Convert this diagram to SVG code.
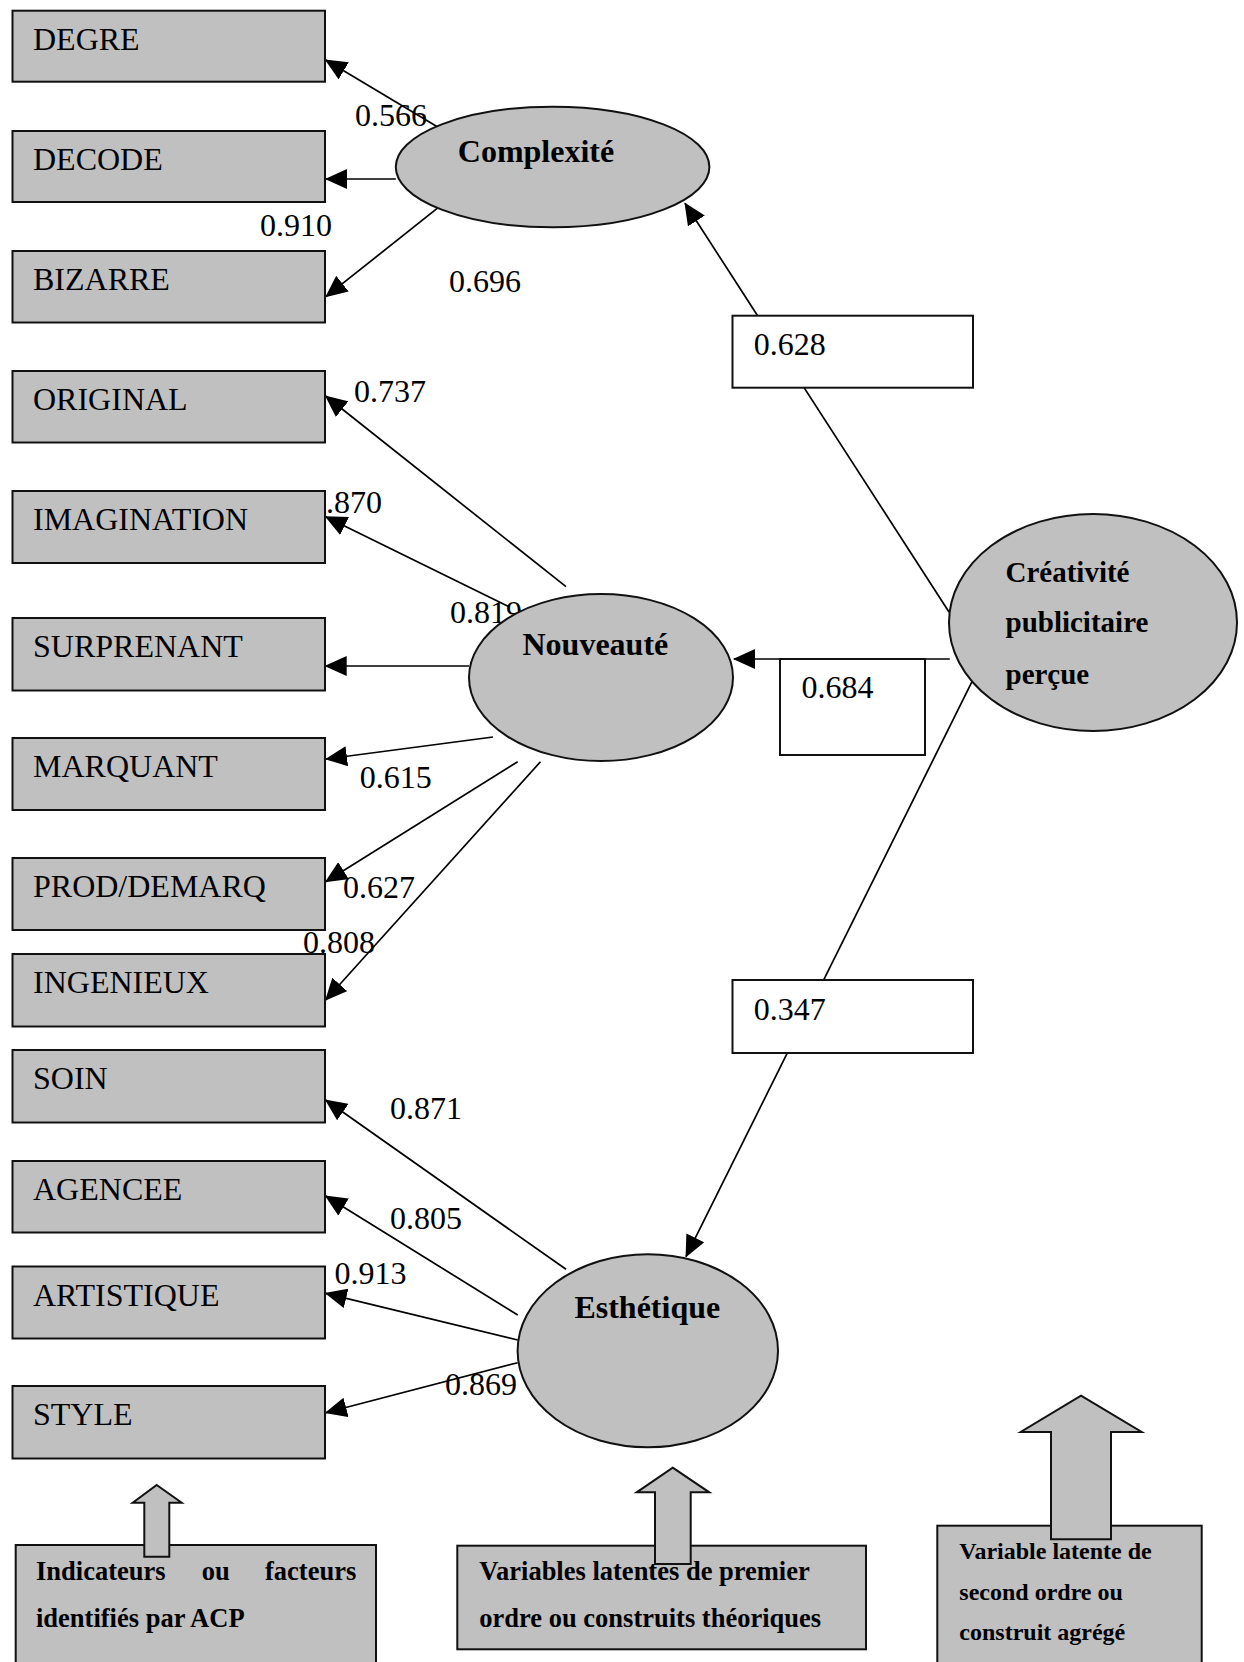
<svg xmlns="http://www.w3.org/2000/svg" width="1244" height="1662" viewBox="0 0 1244 1662">
<defs>
<marker id="ah" markerUnits="userSpaceOnUse" markerWidth="22" markerHeight="20" viewBox="0 0 22 20" refX="21" refY="10" orient="auto">
<path d="M0,0 L22,10 L0,20 z" fill="#000"/>
</marker>
</defs>
<style>
.box{fill:#c0c0c0;stroke:#111;stroke-width:2}
.ell{fill:#c0c0c0;stroke:#111;stroke-width:2}
.wbox{fill:#fff;stroke:#111;stroke-width:2}
.ln{stroke:#000;stroke-width:1.7;fill:none}
.arr{stroke:#000;stroke-width:1.7;fill:none;marker-end:url(#ah)}
.t{font-family:"Liberation Serif","Times New Roman",serif;font-size:32px;fill:#000}
.b{font-family:"Liberation Serif","Times New Roman",serif;font-size:32px;font-weight:bold;fill:#000}
.bc{font-family:"Liberation Serif","Times New Roman",serif;font-size:29px;font-weight:bold;fill:#000}
.lg{font-family:"Liberation Serif","Times New Roman",serif;font-size:26.5px;font-weight:bold;fill:#000}
.lg3{font-family:"Liberation Serif","Times New Roman",serif;font-size:24px;font-weight:bold;fill:#000}
.blk{fill:#c0c0c0;stroke:#111;stroke-width:2;stroke-linejoin:miter}
</style>
<rect width="1244" height="1662" fill="#fff"/>

<g id="connectors">
<line class="arr" x1="444.4" y1="131" x2="325.7" y2="60"/>
<line class="arr" x1="395.8" y1="179" x2="326" y2="179"/>
<line class="arr" x1="444.4" y1="202.7" x2="326" y2="296.7"/>
<line class="arr" x1="566" y1="586.7" x2="325.7" y2="396"/>
<line class="arr" x1="509" y1="606.7" x2="325.7" y2="516.7"/>
<line class="arr" x1="469" y1="666" x2="325.7" y2="666"/>
<line class="arr" x1="493" y1="737" x2="326" y2="759"/>
<line class="arr" x1="517.7" y1="761.7" x2="325.7" y2="881.7"/>
<line class="arr" x1="540.5" y1="761.7" x2="325.7" y2="1000"/>
<line class="arr" x1="566" y1="1269.3" x2="325.7" y2="1100"/>
<line class="arr" x1="517.7" y1="1315" x2="325.7" y2="1196"/>
<line class="arr" x1="517.7" y1="1340" x2="325.7" y2="1293.3"/>
<line class="arr" x1="517.7" y1="1362.7" x2="325.7" y2="1412.7"/>
<line class="arr" x1="949" y1="612" x2="685" y2="203.3"/>
<line class="arr" x1="949.8" y1="659" x2="734" y2="659"/>
<line class="arr" x1="972" y1="681.7" x2="686" y2="1256.7"/>
</g>

<g id="labels">
<text class="t" x="355" y="126">0.566</text>
<text class="t" x="260" y="236">0.910</text>
<text class="t" x="449" y="291.7">0.696</text>
<text class="t" x="354" y="401.7">0.737</text>
<text class="t" x="326" y="512.7">.870</text>
<text class="t" x="450" y="622.7">0.819</text>
<text class="t" x="359.7" y="788.3">0.615</text>
<text class="t" x="343" y="897.7">0.627</text>
<text class="t" x="303" y="953">0.808</text>
<text class="t" x="390" y="1119.3">0.871</text>
<text class="t" x="390" y="1229.3">0.805</text>
<text class="t" x="334.5" y="1284">0.913</text>
<text class="t" x="445" y="1395">0.869</text>
</g>

<g id="w628"><rect class="wbox" x="732.5" y="315.7" width="240.5" height="72"/><text class="t" x="753.7" y="355">0.628</text></g>
<g id="w684"><rect class="wbox" x="780" y="659" width="145" height="96"/><text class="t" x="801.6" y="698">0.684</text></g>
<g id="w347"><rect class="wbox" x="732.5" y="980" width="240.5" height="73"/><text class="t" x="753.7" y="1020">0.347</text></g>

<g id="n-degre"><rect class="box" x="12.5" y="10.7" width="312.5" height="71"/><text class="t" x="33" y="50">DEGRE</text></g>
<g id="n-decode"><rect class="box" x="12.5" y="131" width="312.5" height="71"/><text class="t" x="33" y="170">DECODE</text></g>
<g id="n-bizarre"><rect class="box" x="12.5" y="251" width="312.5" height="71.5"/><text class="t" x="33" y="290">BIZARRE</text></g>
<g id="n-original"><rect class="box" x="12.5" y="371" width="312.5" height="71.5"/><text class="t" x="33" y="410">ORIGINAL</text></g>
<g id="n-imagination"><rect class="box" x="12.5" y="491" width="312.5" height="72"/><text class="t" x="33" y="530">IMAGINATION</text></g>
<g id="n-surprenant"><rect class="box" x="12.5" y="618" width="312.5" height="72.5"/><text class="t" x="33" y="657">SURPRENANT</text></g>
<g id="n-marquant"><rect class="box" x="12.5" y="738" width="312.5" height="72"/><text class="t" x="33" y="777">MARQUANT</text></g>
<g id="n-proddemarq"><rect class="box" x="12.5" y="858" width="312.5" height="72"/><text class="t" x="33" y="897">PROD/DEMARQ</text></g>
<g id="n-ingenieux"><rect class="box" x="12.5" y="954" width="312.5" height="72.5"/><text class="t" x="33" y="993">INGENIEUX</text></g>
<g id="n-soin"><rect class="box" x="12.5" y="1050" width="312.5" height="72.5"/><text class="t" x="33" y="1089">SOIN</text></g>
<g id="n-agencee"><rect class="box" x="12.5" y="1161" width="312.5" height="71.5"/><text class="t" x="33" y="1200">AGENCEE</text></g>
<g id="n-artistique"><rect class="box" x="12.5" y="1266.5" width="312.5" height="72"/><text class="t" x="33" y="1305.5">ARTISTIQUE</text></g>
<g id="n-style"><rect class="box" x="12.5" y="1386" width="312.5" height="72.5"/><text class="t" x="33" y="1425">STYLE</text></g>

<g id="n-complexite"><ellipse class="ell" cx="552.6" cy="167" rx="156.8" ry="60.3"/><text class="b" x="457.8" y="161.7">Complexité</text></g>
<g id="n-nouveaute"><ellipse class="ell" cx="601" cy="677.5" rx="132" ry="83.5"/><text class="b" x="522.5" y="655">Nouveauté</text></g>
<g id="n-esthetique"><ellipse class="ell" cx="647.8" cy="1350.8" rx="130.2" ry="96.5"/><text class="b" x="574.4" y="1318.3">Esthétique</text></g>
<g id="n-creativite"><ellipse class="ell" cx="1093" cy="622.5" rx="144" ry="108.5"/>
<text class="bc" x="1005.5" y="581.7">Créativité</text>
<text class="bc" x="1005.5" y="632.3">publicitaire</text>
<text class="bc" x="1005.5" y="684">perçue</text></g>

<g id="legend1">
<rect class="box" x="15.7" y="1545" width="360.3" height="130"/>
<path class="blk" d="M156.7,1485 L181.7,1502.7 L169.3,1502.7 L169.3,1556.7 L144.3,1556.7 L144.3,1502.7 L132.7,1502.7 Z"/>
<text class="lg" y="1580"><tspan x="36">Indicateurs</tspan><tspan x="201.7">ou</tspan><tspan x="265">facteurs</tspan></text>
<text class="lg" x="36" y="1626.7">identifiés par ACP</text>
</g>
<g id="legend2">
<rect class="box" x="457.3" y="1545.7" width="408.7" height="103.6"/>
<path class="blk" d="M672.7,1467.7 L709.3,1492.3 L690.7,1492.3 L690.7,1564 L655,1564 L655,1492.3 L636.7,1492.3 Z"/>
<text class="lg" x="479.3" y="1580">Variables latentes de premier</text>
<text class="lg" x="479.3" y="1626.7">ordre ou construits théoriques</text>
</g>
<g id="legend3">
<rect class="box" x="937.3" y="1525.7" width="264.4" height="150"/>
<path class="blk" d="M1081,1395.7 L1141.7,1432 L1111,1432 L1111,1539.3 L1051,1539.3 L1051,1432 L1020.7,1432 Z"/>
<text class="lg3" x="959.3" y="1559">Variable latente de</text>
<text class="lg3" x="959.3" y="1600">second ordre ou</text>
<text class="lg3" x="959.3" y="1640">construit agrégé</text>
</g>
</svg>
